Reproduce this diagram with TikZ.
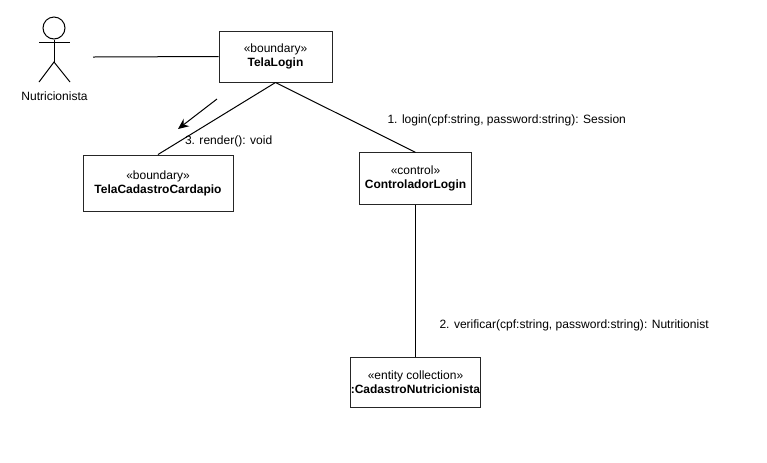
\documentclass[tikz,border=0pt]{standalone}
\usepackage{fontspec}
\setmainfont{Liberation Sans}
\usetikzlibrary{arrows.meta}
\tikzset{
  objbox/.style={draw=black!85, align=center, inner sep=0pt, font=\fontsize{9}{10.5}\selectfont},
  msg/.style={inner sep=0pt, anchor=west, font=\fontsize{9.03}{10.5}\selectfont},
}
\begin{document}
\begin{tikzpicture}[x=0.75pt, y=-0.75pt, line width=0.75pt]
  \useasboundingbox (0,0) rectangle (767,462);
  % actor
  \node[draw, circle, minimum size=16.5pt, inner sep=0pt] (head) at (54,28) {};
  \coordinate (hip) at (54,62);
  \coordinate (shoulderL) at (39,42);
  \coordinate (shoulderR) at (70,42);
  \coordinate (footL) at (39,82);
  \coordinate (footR) at (70,82);
  \draw (head) -- (hip);
  \draw (shoulderL) -- (shoulderR);
  \draw (footL) -- (hip) -- (footR);
  \node[msg, anchor=center] (actorname) at (54.5,96) {Nutricionista};
  % objects
  \node[objbox, minimum width=84.75pt, minimum height=38.25pt] (telaLogin) at (275.5,56.5) {«boundary»\\\textbf{TelaLogin}};
  \node[objbox, minimum width=112.5pt, minimum height=42pt] (telaCadastro) at (158,183) {«boundary»\\\textbf{TelaCadastroCardapio}};
  \node[objbox, minimum width=84pt, minimum height=38.5pt] (controlador) at (415.5,178.5) {«control»\\\textbf{ControladorLogin}};
  \node[objbox, minimum width=96.75pt, minimum height=37.5pt] (cadastro) at (415.5,382) {«entity collection»\\\textbf{:CadastroNutricionista}};
  % links
  \coordinate (actorend) at (93,57);
  \draw (actorend) -- (telaLogin.west);
  \draw (telaLogin.south) -- (telaCadastro.north);
  \draw (telaLogin.south) -- (controlador.north);
  \draw (controlador.south) -- (cadastro.north);
  % messages
  \coordinate (arrowstart) at (217,99);
  \coordinate (arrowend) at (178,129);
  \draw[-{Stealth[length=8pt,width=7pt]}] (arrowstart) -- (arrowend);
  \node[msg] (msgrender) at (184.5,141) {3. render(): void};
  \node[msg] (msglogin) at (387,120) {1. login(cpf:string, password:string): Session};
  \node[msg] (msgverificar) at (439,325) {2. verificar(cpf:string, password:string): Nutritionist};
\end{tikzpicture}
\end{document}
